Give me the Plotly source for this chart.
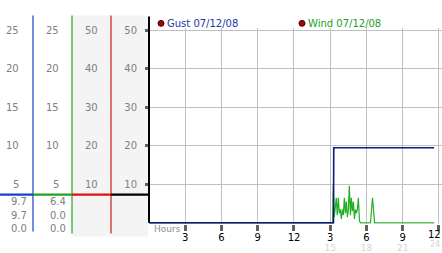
import plotly.graph_objects as go

W, H = 442, 253

# ---------------- data ----------------
hours_ticks = [3, 6, 9, 12, 15, 18, 21, 24]
tick_top = ["3", "6", "9", "12", "3", "6", "9", "12"]
tick_bottom_vals = [15, 18, 21, 24]
tick_bottom = ["15", "18", "21", "24"]

y_ticks = [10, 20, 30, 40, 50]
y_ticklabels = ["10", "20", "30", "40", "50"]

scale_a = [25, 20, 15, 10, 5]      # columns 1 and 2 (half scale)
scale_b = [50, 40, 30, 20, 10]     # column 3

gust_stats = ["9.7", "9.7", "0.0"]
wind_stats = ["6.4", "0.0", "0.0"]

gust_hours = [0, 15.27, 15.29, 23.6]
gust_values = [0, 0, 19.5, 19.5]

wind_hours = [0, 15.2,
              15.25, 15.33, 15.42, 15.50, 15.58, 15.67, 15.75, 15.83, 15.92, 16.00,
              16.08, 16.17, 16.25, 16.33, 16.42, 16.50, 16.58, 16.67, 16.75, 16.83,
              16.92, 17.00, 17.08, 17.17, 17.25, 17.33, 17.42, 17.50,
              18.33, 18.42, 18.50, 18.58, 18.67, 23.6]
wind_values = [0, 0,
               9.8, 1.5, 4.0, 6.5, 2.0, 6.5, 2.5, 3.5, 1.0, 3.5,
               2.0, 6.5, 2.5, 5.5, 1.5, 3.5, 9.6, 2.0, 6.5, 3.0,
               5.5, 1.0, 3.5, 2.5, 3.5, 6.5, 0.5, 0,
               0, 3.4, 6.5, 3.4, 0, 0]

legend_names = ["Gust 07/12/08", "Wind 07/12/08"]

# ---------------- helpers ----------------
def px(x):
    return x / W

def py(y):
    return 1 - y / H

GRAY = "#808080"
FONT = "DejaVu Sans"
BLUE = "#1a3fc8"
GREEN = "#22a022"
RED = "#c81a1a"
LIGHT = "#d4d4d4"

fig = go.Figure()

fig.add_trace(go.Scatter(x=wind_hours, y=wind_values, mode="lines",
                         line=dict(color="#22b022", width=1.2),
                         hoverinfo="skip", xaxis="x", yaxis="y"))
fig.add_trace(go.Scatter(x=gust_hours, y=gust_values, mode="lines",
                         line=dict(color="#101880", width=1.6),
                         hoverinfo="skip", xaxis="x", yaxis="y"))
# carrier for the secondary (light gray) hour labels axis
fig.add_trace(go.Scatter(x=[0], y=[0], mode="markers", marker=dict(opacity=0),
                         hoverinfo="skip", xaxis="x2", yaxis="y"))

shapes = []
# gray column backgrounds
shapes.append(dict(type="rect", xref="paper", yref="paper", x0=px(72.5), x1=px(110.5),
                   y0=py(240), y1=py(12), fillcolor="#f4f4f4", line=dict(width=0), layer="below"))
shapes.append(dict(type="rect", xref="paper", yref="paper", x0=px(111.5), x1=px(148),
                   y0=py(240), y1=py(12), fillcolor="#f4f4f4", line=dict(width=0), layer="below"))
# column separators
for xx, col, yb in [(33, BLUE, 235), (72, GREEN, 237), (111, RED, 237)]:
    shapes.append(dict(type="line", xref="paper", yref="paper", x0=px(xx), x1=px(xx),
                       y0=py(yb), y1=py(12), line=dict(color=col, width=1.2)))
shapes.append(dict(type="line", xref="paper", yref="paper", x0=px(149), x1=px(149),
                   y0=py(226), y1=py(13), line=dict(color="black", width=2)))
# horizontal current-value bar
for x0, x1, col in [(0, 33, BLUE), (33, 72, GREEN), (72, 111, "#dd1111"), (111, 149, "black")]:
    shapes.append(dict(type="line", xref="paper", yref="paper", x0=px(x0), x1=px(x1),
                       y0=py(196.8), y1=py(196.8), line=dict(color=col, width=2.2)))
# legend dots
for cx in [161, 302]:
    shapes.append(dict(type="circle", xref="paper", yref="paper",
                       x0=px(cx - 3), x1=px(cx + 3), y0=py(23), y1=py(17),
                       fillcolor="#b00000", line=dict(color="#300000", width=1)))

ann = []
for v in scale_a:
    ann.append(dict(x=px(21), y=2 * v, xref="paper", yref="y", text=str(v), showarrow=False,
                    xanchor="right", yanchor="middle", font=dict(family=FONT, size=10, color=GRAY)))
    ann.append(dict(x=px(61), y=2 * v, xref="paper", yref="y", text=str(v), showarrow=False,
                    xanchor="right", yanchor="middle", font=dict(family=FONT, size=10, color=GRAY)))
for v in scale_b:
    ann.append(dict(x=px(100), y=v, xref="paper", yref="y", text=str(v), showarrow=False,
                    xanchor="right", yanchor="middle", font=dict(family=FONT, size=10, color=GRAY)))
for i, yy in enumerate([204, 218, 232]):
    ann.append(dict(x=px(28.5), y=py(yy), xref="paper", yref="paper", text=gust_stats[i],
                    showarrow=False, xanchor="right", yanchor="middle",
                    font=dict(family=FONT, size=10, color=GRAY)))
    ann.append(dict(x=px(67.5), y=py(yy), xref="paper", yref="paper", text=wind_stats[i],
                    showarrow=False, xanchor="right", yanchor="middle",
                    font=dict(family=FONT, size=10, color=GRAY)))
ann.append(dict(x=px(165), y=py(20), xref="paper", yref="paper", text=legend_names[0],
                showarrow=False, xanchor="left", yanchor="middle",
                font=dict(family=FONT, size=10, color="#2238a8")))
ann.append(dict(x=px(306), y=py(20), xref="paper", yref="paper", text=legend_names[1],
                showarrow=False, xanchor="left", yanchor="middle",
                font=dict(family=FONT, size=10, color="#22a022")))
ann.append(dict(x=px(152), y=py(232), xref="paper", yref="paper", text="Hours",
                showarrow=False, xanchor="left", yanchor="middle",
                font=dict(family=FONT, size=9, color="#909090")))
# labels of the last (edge) tick, pushed inside the page like in the original
ann.append(dict(x=1, y=py(238.5), xref="paper", yref="paper", text=tick_top[-1],
                showarrow=False, xanchor="right", yanchor="middle", borderpad=0,
                font=dict(family=FONT, size=10, color="black")))
ann.append(dict(x=px(441), y=py(248), xref="paper", yref="paper", text=tick_bottom[-1],
                showarrow=False, xanchor="right", yanchor="middle", borderpad=0,
                font=dict(family=FONT, size=8, color=LIGHT)))

fig.update_layout(
    width=W, height=H, margin=dict(l=0, r=0, t=0, b=0),
    paper_bgcolor="white", plot_bgcolor="white", showlegend=False,
    font=dict(family=FONT, size=10),
    xaxis=dict(domain=[px(149), 1], range=[0, 24.25], tickmode="array",
               tickvals=hours_ticks, ticktext=tick_top[:-1] + [""], showgrid=True,
               gridcolor="#c0c0c0", gridwidth=1, ticks="outside", ticklen=6,
               tickwidth=3, tickcolor="#606060", zeroline=False, showline=False,
               ticklabelstandoff=-2,
               tickfont=dict(family=FONT, size=10, color="black"), fixedrange=True),
    xaxis2=dict(overlaying="x", anchor="y", side="bottom", range=[0, 24.25],
                tickmode="array", tickvals=tick_bottom_vals[:-1], ticktext=tick_bottom[:-1],
                showgrid=False, ticks="", zeroline=False, showline=False,
                ticklabelstandoff=17,
                tickfont=dict(family=FONT, size=9, color=LIGHT), fixedrange=True),
    yaxis=dict(domain=[26 / H, 1 - 25 / H], range=[-0.25, 50.5], tickmode="array",
               tickvals=y_ticks, ticktext=y_ticklabels, showgrid=True,
               gridcolor="#c0c0c0", gridwidth=1, ticks="outside", ticklen=3,
               tickwidth=3, tickcolor="#606060", zeroline=False, showline=False,
               ticklabelstandoff=6,
               tickfont=dict(family=FONT, size=10, color=GRAY), fixedrange=True),
    shapes=shapes, annotations=ann,
)

fig.write_html("out.html")
